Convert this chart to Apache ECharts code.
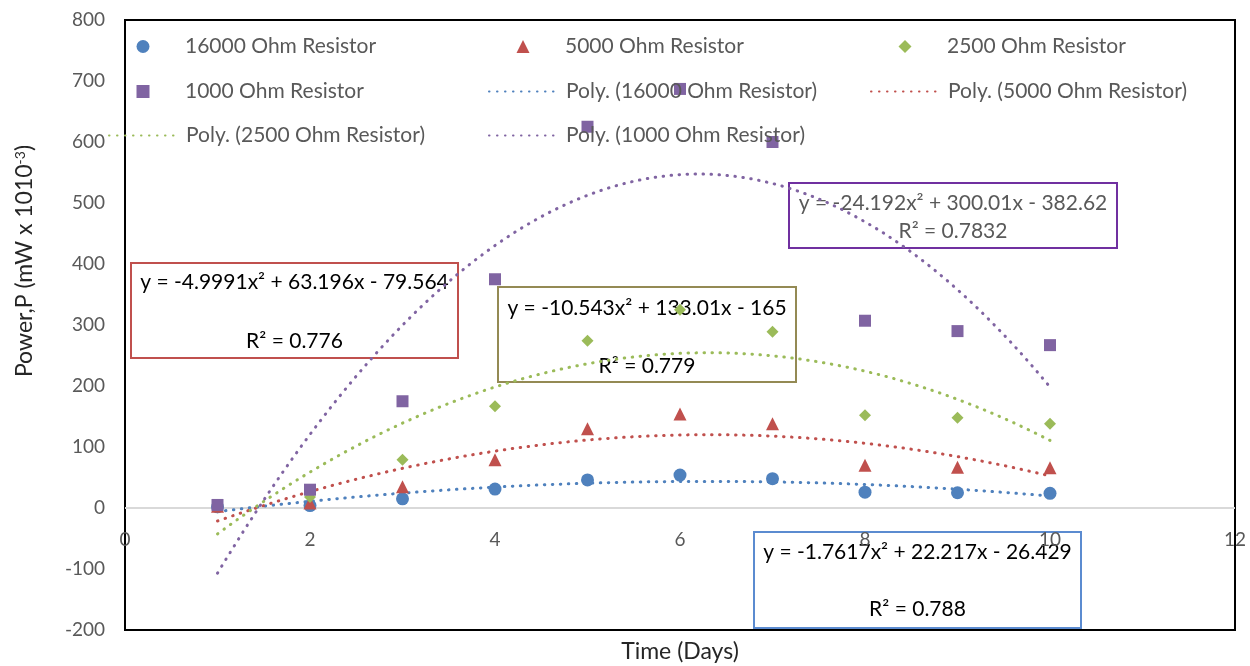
<!DOCTYPE html>
<html>
<head>
<meta charset="utf-8">
<script src="https://cdn.jsdelivr.net/npm/echarts@6/dist/echarts.min.js"></script>
<style>html,body{margin:0;padding:0;background:#fff;}#c{width:1250px;height:666px;}</style>
</head>
<body>
<div id="c"></div>
<script>
// ---- data ----
const days = [1, 2, 3, 4, 5, 6, 7, 8, 9, 10];
const r16000 = [2, 4, 15, 31, 46, 54, 48, 26, 25, 24];
const r5000 = [3, 8, 35, 79, 130, 154, 138, 70, 67, 66];
const r2500 = [5, 18, 79, 167, 274, 325, 289, 152, 148, 138];
const r1000 = [5, 30, 175, 375, 625, 687, 600, 307, 290, 267];
// trendline coefficients [a, b, c] for y = a x^2 + b x + c
const trend16000 = [-1.7617, 22.217, -26.429];
const trend5000 = [-4.9991, 63.196, -79.564];
const trend2500 = [-10.543, 133.01, -165];
const trend1000 = [-24.192, 300.01, -382.62];
const r2Values = ['0.788', '0.776', '0.779', '0.7832'];
const xTicks = [0, 2, 4, 6, 8, 10, 12];
const yTicks = [-200, -100, 0, 100, 200, 300, 400, 500, 600, 700, 800];

const names = ['16000 Ohm Resistor', '5000 Ohm Resistor', '2500 Ohm Resistor', '1000 Ohm Resistor'];
const colors = ['#4F81BD', '#C0504D', '#9BBB59', '#8064A2'];
const symbols = ['circle', 'triangle', 'diamond', 'rect'];
const symSizes = [13, 13, 12, 12];
const values = [r16000, r5000, r2500, r1000];
const trends = [trend16000, trend5000, trend2500, trend1000];

function curve(coef) {
  const pts = [];
  for (let i = 0; i <= 90; i++) {
    const x = 1 + i * 0.1;
    pts.push([x, coef[0] * x * x + coef[1] * x + coef[2]]);
  }
  return pts;
}

const FONT = 'Lato, "Open Sans", sans-serif';
const series = [];
names.forEach((n, i) => {
  const s = {
    name: 'Poly. (' + n + ')', type: 'line', data: curve(trends[i]), showSymbol: false, symbol: 'none',
    smooth: false, z: 2,
    lineStyle: { color: colors[i], width: 3, type: [0.5, 7.5], cap: 'round' },
    itemStyle: { color: colors[i] }
  };
  if (i === 0) {
    // horizontal zero line of the value axis
    s.markLine = { silent: true, symbol: 'none', z: 1, label: { show: false },
      lineStyle: { color: '#D9D9D9', width: 2, type: 'solid' }, data: [{ yAxis: 0 }] };
  }
  series.push(s);
});
names.forEach((n, i) => {
  series.push({
    name: n, type: 'scatter', symbol: symbols[i], symbolSize: symSizes[i], z: 3,
    data: days.map((d, k) => [d, values[i][k]]),
    itemStyle: { color: colors[i], opacity: 1 }
  });
});

const LEG_FS = 21;
// [name, left, top, isLine]
const legendPos = [
  ['16000 Ohm Resistor', 108, 36, false], ['5000 Ohm Resistor', 488, 36, false], ['2500 Ohm Resistor', 870, 36, false],
  ['1000 Ohm Resistor', 108, 81, false], ['Poly. (16000 Ohm Resistor)', 488, 81, true], ['Poly. (5000 Ohm Resistor)', 870, 81, true],
  ['Poly. (2500 Ohm Resistor)', 108, 125, true], ['Poly. (1000 Ohm Resistor)', 488, 125, true]
];
const legends = legendPos.map(p => {
  if (p[3]) {
    return {
      data: [p[0]], left: p[1], top: p[2], padding: 0, itemWidth: 70, itemHeight: 13, itemGap: 0,
      selectedMode: false, itemStyle: { opacity: 0 },
      textStyle: { fontFamily: FONT, fontSize: LEG_FS, color: '#595959', lineHeight: 20, padding: [0, 0, 0, 2] }
    };
  }
  return {
    data: [p[0]], left: p[1] + 28.5, top: p[2], padding: 0, itemWidth: 13, itemHeight: 13, itemGap: 0,
    selectedMode: false,
    textStyle: { fontFamily: FONT, fontSize: LEG_FS, color: '#595959', lineHeight: 20, padding: [0, 0, 0, 30.5] }
  };
});

function box(x, y, w, h, color, lines, textColor) {
  const els = [{ type: 'rect', shape: { x: x, y: y, width: w, height: h }, style: { fill: 'none', stroke: color, lineWidth: 2 }, z: 0, silent: true }];
  lines.forEach(l => {
    els.push({ type: 'text', x: x + w / 2, y: l[1], z: 0, silent: true,
      style: { text: l[0], fill: textColor, font: '21px ' + FONT, align: 'center', verticalAlign: 'middle' } });
  });
  return els;
}
const fmt = (c) => 'y = ' + c[0] + 'x² + ' + c[1] + 'x - ' + Math.abs(c[2]);
const graphics = [].concat(
  box(131, 263, 327, 95, '#C0504D', [[fmt(trend5000), 282], ['R² = ' + r2Values[1], 341]], '#000'),
  box(498, 287, 298, 95, '#948A54', [[fmt(trend2500), 308], ['R² = ' + r2Values[2], 366]], '#000'),
  box(789, 183, 328, 65, '#7030A0', [[fmt(trend1000), 203], ['R² = ' + r2Values[3], 231]], '#595959'),
  box(754, 532, 327, 96, '#5B8BD0', [[fmt(trend16000), 552], ['R² = ' + r2Values[0], 609]], '#000')
);

const chart = echarts.init(document.getElementById('c'));
chart.setOption({
  animation: false,
  backgroundColor: '#fff',
  grid: { left: 125, right: 15, top: 20, bottom: 36, show: true, borderColor: '#000', borderWidth: 2,
    backgroundColor: 'transparent', containLabel: false, outerBoundsMode: 'none' },
  legend: legends,
  xAxis: {
    type: 'value', min: xTicks[0], max: xTicks[xTicks.length - 1], interval: 2,
    name: 'Time (Days)', nameLocation: 'middle', nameGap: 10, nameMoveOverlap: false,
    nameTextStyle: { fontFamily: FONT, fontSize: 23, color: '#262626' },
    axisLine: { show: false, onZero: false },
    axisTick: { show: false }, splitLine: { show: false },
    axisLabel: { show: false }
  },
  yAxis: {
    type: 'value', min: yTicks[0], max: yTicks[yTicks.length - 1], interval: 100,
    name: '{a|Power,P (mW x 1010}{s|-3}{a|)}', nameLocation: 'middle', nameGap: 88,
    nameTextStyle: { fontFamily: FONT, fontSize: 23, color: '#262626', padding: [0, 0, 0, 128],
      rich: { a: { fontFamily: FONT, fontSize: 23, color: '#262626' }, s: { fontFamily: FONT, fontSize: 14, color: '#262626', verticalAlign: 'top', lineHeight: 24 } } },
    axisLine: { show: false }, axisTick: { show: false }, splitLine: { show: false },
    axisLabel: { fontFamily: FONT, fontSize: 19, color: '#595959', margin: 20 }
  },
  graphic: { elements: graphics },
  series: series
});

// x tick labels, placed through the x axis scale just below the zero line (own top layer)
const zeroY = chart.convertToPixel({ yAxisIndex: 0 }, 0);
const tickEls = xTicks.map(v => ({
  type: 'text', zlevel: 1, z: 10, silent: true,
  x: chart.convertToPixel({ xAxisIndex: 0 }, v), y: zeroY + 32,
  style: { text: String(v), fill: '#595959', font: '19px ' + FONT, align: 'center', verticalAlign: 'middle' }
}));
chart.setOption({ graphic: { elements: graphics.concat(tickEls) } }, { replaceMerge: ['graphic'] });
</script>
</body>
</html>
